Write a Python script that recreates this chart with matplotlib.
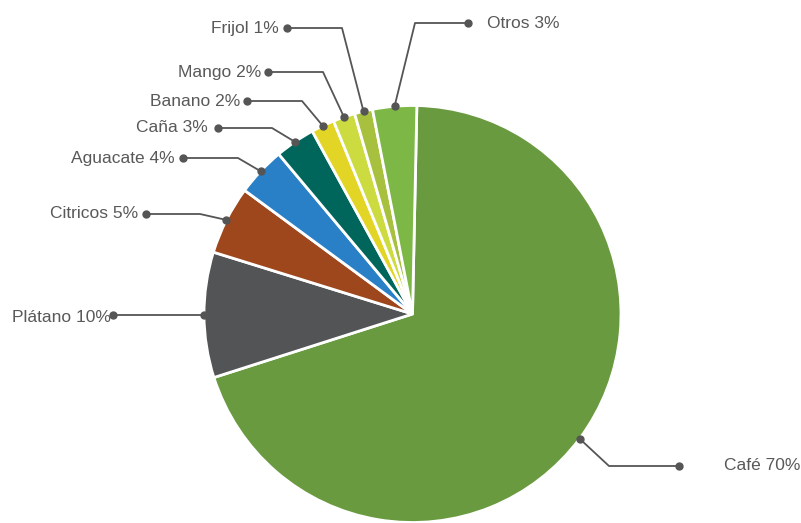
import numpy as np
import matplotlib
matplotlib.use("Agg")
import matplotlib.pyplot as plt
from matplotlib import font_manager

# ---- data ----
categories = ["Café", "Plátano", "Citricos", "Aguacate", "Caña", "Banano", "Mango", "Frijol", "Otros"]
values = [69.6, 9.7, 5.3, 3.8, 3.1, 1.8, 1.7, 1.4, 3.4]
colors = ["#699A3F", "#535456", "#9E471C", "#2A80C6", "#00655A",
          "#E3D526", "#CCDC40", "#A7C13F", "#7DB847"]

# ---- layout (pixel coordinates, y downward) ----
W, H = 801, 523
center_px = (412.5, 314.0)
radius_px = 208.5
start_angle = 88.8  # degrees, clockwise drawing

elbows = {"Café": (609, 466), "Plátano": None, "Citricos": (200, 214), "Aguacate": (238, 158),
          "Caña": (272, 128), "Banano": (302, 101), "Mango": (323, 72), "Frijol": (342, 28),
          "Otros": (415, 23)}
dots = {"Café": (679, 466), "Plátano": (113, 317), "Citricos": (146, 214), "Aguacate": (183, 158),
        "Caña": (218, 128), "Banano": (247, 101), "Mango": (268, 72), "Frijol": (287, 28),
        "Otros": (468, 23)}
texts = {"Café": (724, 466, "left"), "Plátano": (111, 318, "right"), "Citricos": (138, 214, "right"),
         "Aguacate": (175, 158, "right"), "Caña": (208, 128, "right"), "Banano": (240, 101, "right"),
         "Mango": (261, 72, "right"), "Frijol": (279, 28, "right"), "Otros": (487, 23, "left")}

avail = {f.name for f in font_manager.fontManager.ttflist}
fam = ["Liberation Sans Narrow", "Liberation Sans", "DejaVu Sans"]
fam = [f for f in fam if f in avail] or ["DejaVu Sans"]
plt.rcParams["font.family"] = fam

text_color = "#595959"
line_color = "#555555"

fig = plt.figure(figsize=(W / 100, H / 100), dpi=100)
ax = fig.add_axes([0, 0, 1, 1])

def P(x, y):
    return (x, H - y)

cx, cy = P(*center_px)
wedges, _ = ax.pie(values, colors=colors, startangle=start_angle, counterclock=False,
                   center=(cx, cy), radius=radius_px, frame=True,
                   wedgeprops=dict(edgecolor="white", linewidth=2))
ax.set_xlim(0, W)
ax.set_ylim(0, H)
ax.set_aspect("equal")
ax.axis("off")

total = sum(values)
for w, cat, v in zip(wedges, categories, values):
    mid = np.deg2rad((w.theta1 + w.theta2) / 2)
    ex = cx + radius_px * np.cos(mid)
    ey = cy + radius_px * np.sin(mid)
    pts = [(ex, ey)]
    if elbows[cat] is not None:
        pts.append(P(*elbows[cat]))
        pts.append(P(*dots[cat]))
    else:
        pts.append((P(*dots[cat])[0], ey))
    xs, ys = zip(*pts)
    ax.plot(xs, ys, color=line_color, lw=1.3, solid_capstyle="round", zorder=5)
    ax.plot([xs[0], xs[-1]], [ys[0], ys[-1]], "o", color=line_color, ms=5, zorder=6)
    tx, ty, ha = texts[cat]
    pct = int(round(v / total * 100))
    ax.text(*P(tx, ty), f"{cat} {pct}%", ha=ha, va="center", fontsize=12.5,
            color=text_color)

fig.savefig("out.png", dpi=100)
